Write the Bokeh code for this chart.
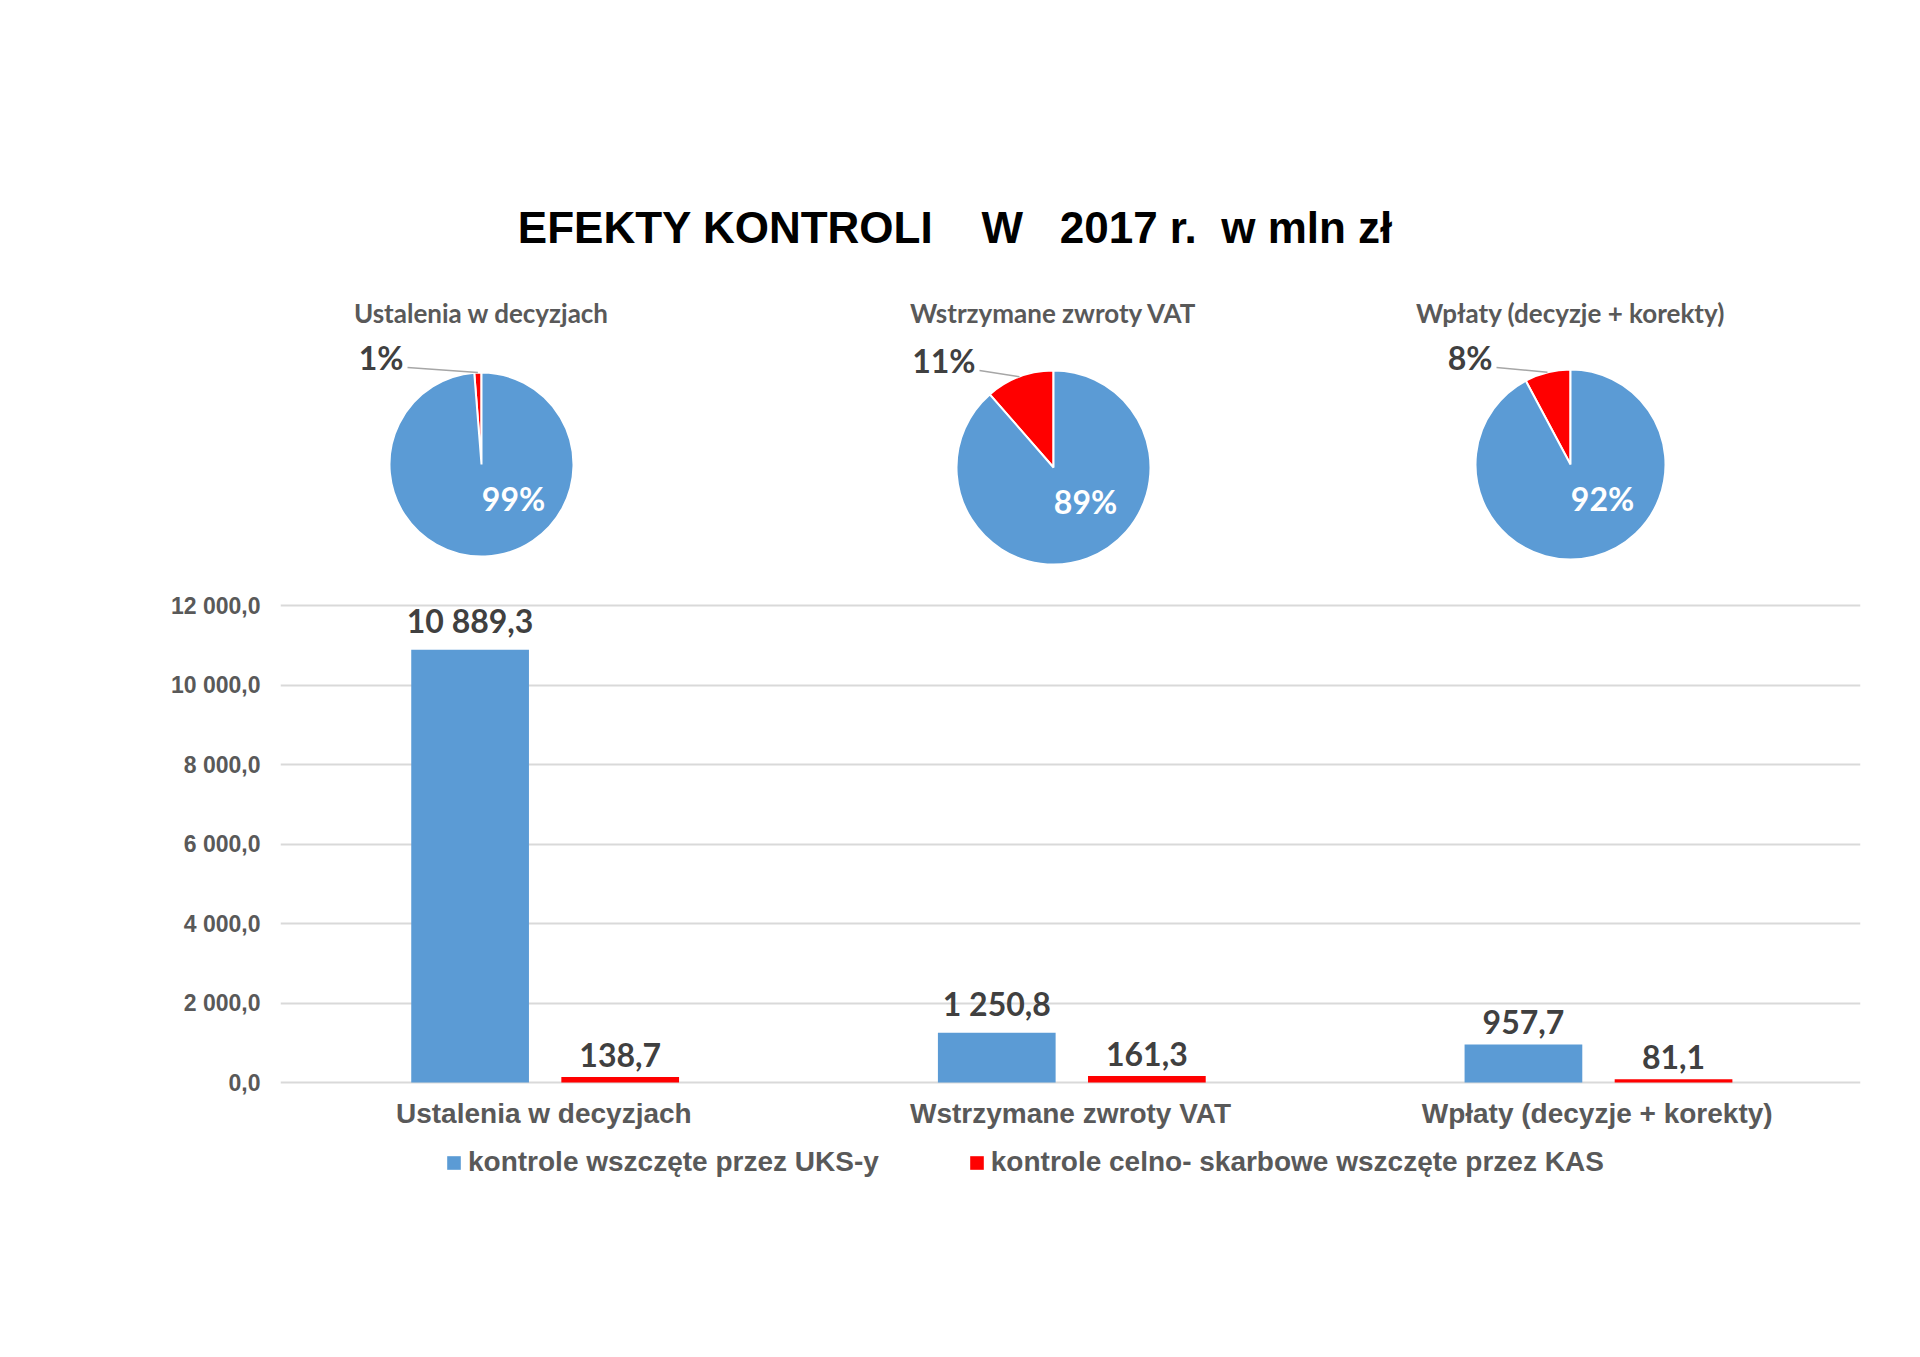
import math
from bokeh.plotting import figure
from bokeh.models import (Range1d, ColumnDataSource, FixedTicker,
                          Legend, LegendItem)
from bokeh.transform import dodge
from bokeh.core.properties import value
from bokeh.embed import file_html
from bokeh.resources import INLINE

# ---------------- data ----------------
categories = ["Ustalenia w decyzjach", "Wstrzymane zwroty VAT", "Wpłaty (decyzje + korekty)"]
uks_values = [10889.3, 1250.8, 957.7]
kas_values = [138.7, 161.3, 81.1]
series_names = ["kontrole wszczęte przez UKS-y", "kontrole celno- skarbowe wszczęte przez KAS"]
y_ticks = [0, 2000, 4000, 6000, 8000, 10000, 12000]
NB = "\u00a0"
title_text = "EFEKTY KONTROLI " + NB * 3 + "W " + NB * 2 + "2017 r. " + NB + "w mln zł"

# ---------------- styles / layout ----------------
BLUE = "#5B9BD5"
RED = "#FF0000"
GRAY = "#595959"
DARK = "#404040"
ARIAL_NAME = "Liberation Sans"
ARIAL = value(ARIAL_NAME)
CALIBRI = value("Lato")

W, H = 1904, 1341
SH = 5  # global shift
FRAME_L, FRAME_R, FRAME_T, FRAME_B = 275 + SH, 1860, 142 + SH, 1250
ZERO_PX = 1077 + SH     # pixel row of the value 0
Y_TOP_PX = 600 + SH     # pixel row of the top gridline
ppu = (ZERO_PX - Y_TOP_PX) / y_ticks[-1]
y_start = -(FRAME_B - ZERO_PX) / ppu
y_end = (ZERO_PX - FRAME_T) / ppu

BLUE_OFF, RED_OFF, BAR_W = -0.140, 0.145, 0.2235

PIE_CX = [c + SH for c in (476, 1048, 1565)]
PIE_CY = [c + SH for c in (459, 462, 459)]
PIE_R = [92, 97, 95]
PIE_TITLE_Y = 307 + SH
TITLE_X, TITLE_Y = 950 + SH, 222 + SH
LEGEND_X, LEGEND_CY, LEGEND_ROW_H = 440 + SH, 1157 + SH, 32


def pl(v, d=1):
    s = f"{v:,.{d}f}"
    return s.replace(",", " ").replace(".", ",")


# category slots on a numeric axis: slot i is centred at i + 0.5
cat_pos = [i + 0.5 for i in range(len(categories))]

p = figure(width=W, height=H,
           x_range=Range1d(0, len(categories)),
           y_range=Range1d(y_start, y_end),
           output_backend="svg", toolbar_location=None,
           min_border_left=FRAME_L, min_border_right=W - FRAME_R,
           min_border_top=FRAME_T, min_border_bottom=H - FRAME_B)
p.extra_x_ranges = {"px": Range1d(FRAME_L, FRAME_R)}
p.extra_y_ranges = {"px": Range1d(FRAME_B, FRAME_T)}
p.outline_line_color = None
p.background_fill_color = "white"
p.border_fill_color = "white"

# grid / axes
p.xgrid.visible = False
p.ygrid.ticker = FixedTicker(ticks=y_ticks)
p.ygrid.grid_line_color = "#D9D9D9"
p.ygrid.grid_line_width = 2

p.yaxis.ticker = FixedTicker(ticks=y_ticks)
p.yaxis.major_label_overrides = {t: pl(t) for t in y_ticks}
p.yaxis.major_label_text_font = ARIAL_NAME
p.yaxis.major_label_text_font_style = "bold"
p.yaxis.major_label_text_font_size = "23px"
p.yaxis.major_label_text_color = GRAY
p.yaxis.major_label_standoff = 14
p.yaxis.axis_line_color = None
p.yaxis.major_tick_line_color = None
p.yaxis.minor_tick_line_color = None

p.xaxis.fixed_location = 0
p.xaxis.ticker = FixedTicker(ticks=cat_pos)
p.xaxis.major_label_overrides = {pos: c for pos, c in zip(cat_pos, categories)}
p.xaxis.major_label_text_font = ARIAL_NAME
p.xaxis.major_label_text_font_style = "bold"
p.xaxis.major_label_text_font_size = "28px"
p.xaxis.major_label_text_color = GRAY
p.xaxis.major_label_standoff = 9
p.xaxis.axis_line_color = None
p.xaxis.major_tick_line_color = None
p.xaxis.minor_tick_line_color = None

# bars
src = ColumnDataSource(dict(
    pos=cat_pos, cat=categories, uks=uks_values, kas=kas_values,
    uks_lbl=[pl(v) for v in uks_values], kas_lbl=[pl(v) for v in kas_values]))

r_uks = p.vbar(x=dodge("pos", BLUE_OFF), top="uks", width=BAR_W,
               source=src, fill_color=BLUE, line_color=None)
r_kas = p.vbar(x=dodge("pos", RED_OFF), top="kas", width=BAR_W,
               source=src, fill_color=RED, line_color=None)

for col, off in (("uks", BLUE_OFF), ("kas", RED_OFF)):
    p.text(x=dodge("pos", off), y=col, text=col + "_lbl", source=src,
           text_font=CALIBRI, text_font_style="bold", text_font_size="32px",
           text_color=DARK, text_align="center", text_baseline="bottom",
           y_offset=-10)

# main title
p.text(x=[TITLE_X], y=[TITLE_Y], text=[title_text], x_range_name="px", y_range_name="px",
       text_font=ARIAL, text_font_style="bold", text_font_size="44px",
       text_color="black", text_align="center", text_baseline="middle")

# pies
for i, cat in enumerate(categories):
    total = uks_values[i] + kas_values[i]
    share_red = kas_values[i] / total
    share_blue = uks_values[i] / total
    cx, cy, r = PIE_CX[i], PIE_CY[i], PIE_R[i]
    a0 = math.pi / 2
    a1 = a0 + share_red * 2 * math.pi
    p.wedge(x=[cx], y=[cy], radius=r, radius_units="screen",
            start_angle=a0, end_angle=a1, fill_color=RED, line_color="white",
            line_width=2, x_range_name="px", y_range_name="px")
    p.wedge(x=[cx], y=[cy], radius=r, radius_units="screen",
            start_angle=a1, end_angle=a0 + 2 * math.pi, fill_color=BLUE, line_color="white",
            line_width=2, x_range_name="px", y_range_name="px")
    # pie title
    p.text(x=[cx], y=[PIE_TITLE_Y], text=[cat], x_range_name="px", y_range_name="px",
           text_font=CALIBRI, text_font_style="bold", text_font_size="26px",
           text_color=GRAY, text_align="center", text_baseline="middle")
    # inside label
    p.text(x=[cx + 32], y=[cy + 34], text=[f"{round(share_blue * 100)}%"],
           x_range_name="px", y_range_name="px",
           text_font=CALIBRI, text_font_style="bold", text_font_size="32px",
           text_color="white", text_align="center", text_baseline="middle")
    # outside label + leader
    mid = (a0 + a1) / 2
    p.segment(x0=[cx - 74], y0=[cy - 97], x1=[cx + r * math.cos(mid)],
              y1=[cy - r * math.sin(mid)], line_color="#A6A6A6", line_width=1.5,
              x_range_name="px", y_range_name="px")
    p.text(x=[cx - 78], y=[cy - 107], text=[f"{round(share_red * 100)}%"],
           x_range_name="px", y_range_name="px",
           text_font=CALIBRI, text_font_style="bold", text_font_size="32px",
           text_color=DARK, text_align="right", text_baseline="middle")

# legend (inside the frame, below the category labels)
legend = Legend(items=[LegendItem(label=series_names[0], renderers=[r_uks]),
                       LegendItem(label=series_names[1], renderers=[r_kas])],
                orientation="horizontal",
                location=(LEGEND_X - FRAME_L, FRAME_B - LEGEND_CY - LEGEND_ROW_H / 2),
                label_text_font=ARIAL_NAME, label_text_font_style="bold",
                label_text_font_size="28px", label_text_color=GRAY,
                label_height=LEGEND_ROW_H,
                glyph_width=17, glyph_height=17, label_standoff=6, spacing=89,
                padding=0, margin=0, border_line_color=None,
                background_fill_alpha=0)
p.add_layout(legend, "center")

open("out.html", "w").write(file_html(p, INLINE))
